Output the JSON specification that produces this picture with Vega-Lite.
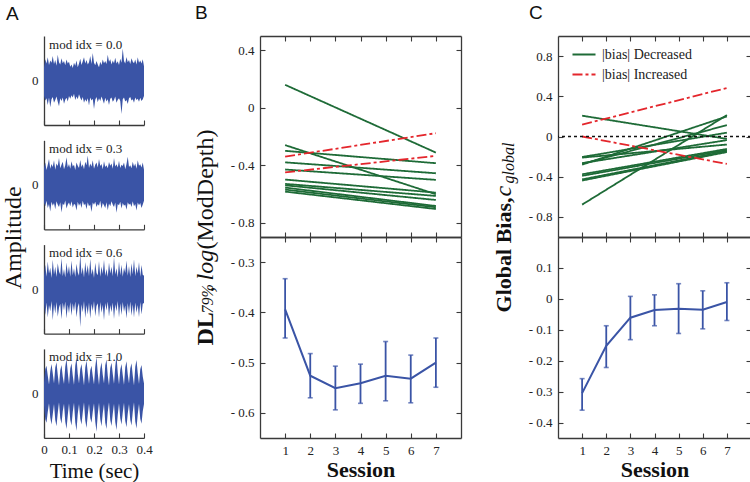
{
"$schema": "https://vega.github.io/schema/vega-lite/v6.json",
"background": "white",
"autosize": {"type": "pad"},
"padding": {"left": 1, "top": 4, "right": 0, "bottom": 0},
"config": {
 "view": {"stroke": null},
 "font": "Liberation Serif",
 "axis": {"grid": false, "tickSize": -5, "tickWidth": 1.1, "tickColor": "#3a3a3a", "domainColor": "#3a3a3a", "domainWidth": 1.3, "labelFont": "Liberation Serif", "labelFontSize": 13, "labelColor": "#222", "labelPadding": 11, "labelFlush": false, "labelOverlap": false, "labelBound": false, "titleFont": "Liberation Serif", "titleColor": "#111", "titleFontWeight": "normal"},
 "title": {"font": "Liberation Sans", "fontSize": 19, "fontWeight": "normal", "color": "#111", "anchor": "start", "frame": "bounds"}
},
"datasets": {
 "wave": [
{"p":1,"t":0,"h":0.30,"l":-0.35},{"p":1,"t":0.005,"h":0.48,"l":-0.45},{"p":1,"t":0.01,"h":0.38,"l":-0.40},{"p":1,"t":0.015,"h":0.52,"l":-0.55},{"p":1,"t":0.02,"h":0.35,"l":-0.38},{"p":1,"t":0.025,"h":0.45,"l":-0.60},{"p":1,"t":0.03,"h":0.40,"l":-0.42},{"p":1,"t":0.035,"h":0.55,"l":-0.37},{"p":1,"t":0.04,"h":0.37,"l":-0.50},{"p":1,"t":0.045,"h":0.46,"l":-0.44},
{"p":1,"t":0.05,"h":0.33,"l":-0.36},{"p":1,"t":0.055,"h":0.58,"l":-0.48},{"p":1,"t":0.06,"h":0.41,"l":-0.58},{"p":1,"t":0.065,"h":0.36,"l":-0.40},{"p":1,"t":0.07,"h":0.50,"l":-0.46},{"p":1,"t":0.075,"h":0.39,"l":-0.38},{"p":1,"t":0.08,"h":0.44,"l":-0.52},{"p":1,"t":0.085,"h":0.34,"l":-0.43},{"p":1,"t":0.09,"h":0.47,"l":-0.39},{"p":1,"t":0.095,"h":0.38,"l":-0.47},
{"p":1,"t":0.1,"h":0.42,"l":-0.35},{"p":1,"t":0.105,"h":0.31,"l":-0.41},{"p":1,"t":0.11,"h":0.36,"l":-0.33},{"p":1,"t":0.115,"h":0.28,"l":-0.38},{"p":1,"t":0.12,"h":0.40,"l":-0.30},{"p":1,"t":0.125,"h":0.33,"l":-0.44},{"p":1,"t":0.13,"h":0.45,"l":-0.36},{"p":1,"t":0.135,"h":0.30,"l":-0.42},{"p":1,"t":0.14,"h":0.38,"l":-0.31},{"p":1,"t":0.145,"h":0.49,"l":-0.39},
{"p":1,"t":0.15,"h":0.35,"l":-0.45},{"p":1,"t":0.155,"h":0.43,"l":-0.37},{"p":1,"t":0.16,"h":0.52,"l":-0.50},{"p":1,"t":0.165,"h":0.38,"l":-0.42},{"p":1,"t":0.17,"h":0.46,"l":-0.48},{"p":1,"t":0.175,"h":0.36,"l":-0.40},{"p":1,"t":0.18,"h":0.41,"l":-0.56},{"p":1,"t":0.185,"h":0.55,"l":-0.38},{"p":1,"t":0.19,"h":0.37,"l":-0.45},{"p":1,"t":0.195,"h":0.62,"l":-0.41},
{"p":1,"t":0.2,"h":0.40,"l":-0.64},{"p":1,"t":0.205,"h":0.34,"l":-0.43},{"p":1,"t":0.21,"h":0.44,"l":-0.37},{"p":1,"t":0.215,"h":0.36,"l":-0.49},{"p":1,"t":0.22,"h":0.30,"l":-0.40},{"p":1,"t":0.225,"h":0.42,"l":-0.46},{"p":1,"t":0.23,"h":0.35,"l":-0.36},{"p":1,"t":0.235,"h":0.47,"l":-0.44},{"p":1,"t":0.24,"h":0.39,"l":-0.52},{"p":1,"t":0.245,"h":0.44,"l":-0.39},
{"p":1,"t":0.25,"h":0.37,"l":-0.47},{"p":1,"t":0.255,"h":0.58,"l":-0.42},{"p":1,"t":0.26,"h":0.42,"l":-0.55},{"p":1,"t":0.265,"h":0.48,"l":-0.41},{"p":1,"t":0.27,"h":0.36,"l":-0.38},{"p":1,"t":0.275,"h":0.45,"l":-0.48},{"p":1,"t":0.28,"h":0.39,"l":-0.44},{"p":1,"t":0.285,"h":0.51,"l":-0.36},{"p":1,"t":0.29,"h":0.38,"l":-0.50},{"p":1,"t":0.295,"h":0.43,"l":-0.43},
{"p":1,"t":0.3,"h":0.35,"l":-0.40},{"p":1,"t":0.305,"h":0.49,"l":-0.46},{"p":1,"t":0.31,"h":0.40,"l":-0.75},{"p":1,"t":0.315,"h":0.72,"l":-0.42},{"p":1,"t":0.32,"h":0.44,"l":-0.38},{"p":1,"t":0.325,"h":0.38,"l":-0.47},{"p":1,"t":0.33,"h":0.53,"l":-0.44},{"p":1,"t":0.335,"h":0.41,"l":-0.53},{"p":1,"t":0.34,"h":0.46,"l":-0.40},{"p":1,"t":0.345,"h":0.37,"l":-0.37},
{"p":1,"t":0.35,"h":0.50,"l":-0.45},{"p":1,"t":0.355,"h":0.42,"l":-0.42},{"p":1,"t":0.36,"h":0.39,"l":-0.50},{"p":1,"t":0.365,"h":0.47,"l":-0.38},{"p":1,"t":0.37,"h":0.36,"l":-0.44},{"p":1,"t":0.375,"h":0.52,"l":-0.41},{"p":1,"t":0.38,"h":0.40,"l":-0.48},{"p":1,"t":0.385,"h":0.45,"l":-0.39},{"p":1,"t":0.39,"h":0.38,"l":-0.46},{"p":1,"t":0.395,"h":0.48,"l":-0.42},
{"p":1,"t":0.4,"h":0.32,"l":-0.35},
{"p":2,"t":0,"h":0.38,"l":-0.40},{"p":2,"t":0.005,"h":0.50,"l":-0.48},{"p":2,"t":0.01,"h":0.33,"l":-0.36},{"p":2,"t":0.015,"h":0.45,"l":-0.52},{"p":2,"t":0.02,"h":0.58,"l":-0.43},{"p":2,"t":0.025,"h":0.36,"l":-0.60},{"p":2,"t":0.03,"h":0.47,"l":-0.38},{"p":2,"t":0.035,"h":0.40,"l":-0.47},{"p":2,"t":0.04,"h":0.55,"l":-0.41},{"p":2,"t":0.045,"h":0.34,"l":-0.55},
{"p":2,"t":0.05,"h":0.48,"l":-0.37},{"p":2,"t":0.055,"h":0.42,"l":-0.45},{"p":2,"t":0.06,"h":0.60,"l":-0.50},{"p":2,"t":0.065,"h":0.37,"l":-0.39},{"p":2,"t":0.07,"h":0.45,"l":-0.62},{"p":2,"t":0.075,"h":0.52,"l":-0.42},{"p":2,"t":0.08,"h":0.35,"l":-0.46},{"p":2,"t":0.085,"h":0.44,"l":-0.35},{"p":2,"t":0.09,"h":0.62,"l":-0.53},{"p":2,"t":0.095,"h":0.39,"l":-0.44},
{"p":2,"t":0.1,"h":0.47,"l":-0.40},{"p":2,"t":0.105,"h":0.36,"l":-0.48},{"p":2,"t":0.11,"h":0.53,"l":-0.37},{"p":2,"t":0.115,"h":0.41,"l":-0.51},{"p":2,"t":0.12,"h":0.45,"l":-0.43},{"p":2,"t":0.125,"h":0.33,"l":-0.45},{"p":2,"t":0.13,"h":0.50,"l":-0.58},{"p":2,"t":0.135,"h":0.43,"l":-0.38},{"p":2,"t":0.14,"h":0.38,"l":-0.47},{"p":2,"t":0.145,"h":0.56,"l":-0.41},
{"p":2,"t":0.15,"h":0.40,"l":-0.52},{"p":2,"t":0.155,"h":0.46,"l":-0.36},{"p":2,"t":0.16,"h":0.35,"l":-0.46},{"p":2,"t":0.165,"h":0.52,"l":-0.42},{"p":2,"t":0.17,"h":0.44,"l":-0.55},{"p":2,"t":0.175,"h":0.66,"l":-0.39},{"p":2,"t":0.18,"h":0.38,"l":-0.48},{"p":2,"t":0.185,"h":0.48,"l":-0.44},{"p":2,"t":0.19,"h":0.41,"l":-0.61},{"p":2,"t":0.195,"h":0.55,"l":-0.40},
{"p":2,"t":0.2,"h":0.36,"l":-0.45},{"p":2,"t":0.205,"h":0.45,"l":-0.38},{"p":2,"t":0.21,"h":0.50,"l":-0.50},{"p":2,"t":0.215,"h":0.39,"l":-0.43},{"p":2,"t":0.22,"h":0.58,"l":-0.47},{"p":2,"t":0.225,"h":0.42,"l":-0.36},{"p":2,"t":0.23,"h":0.47,"l":-0.54},{"p":2,"t":0.235,"h":0.35,"l":-0.41},{"p":2,"t":0.24,"h":0.53,"l":-0.46},{"p":2,"t":0.245,"h":0.40,"l":-0.52},
{"p":2,"t":0.25,"h":0.44,"l":-0.39},{"p":2,"t":0.255,"h":0.37,"l":-0.57},{"p":2,"t":0.26,"h":0.51,"l":-0.42},{"p":2,"t":0.265,"h":0.43,"l":-0.48},{"p":2,"t":0.27,"h":0.48,"l":-0.37},{"p":2,"t":0.275,"h":0.36,"l":-0.45},{"p":2,"t":0.28,"h":0.60,"l":-0.50},{"p":2,"t":0.285,"h":0.41,"l":-0.40},{"p":2,"t":0.29,"h":0.46,"l":-0.63},{"p":2,"t":0.295,"h":0.39,"l":-0.43},
{"p":2,"t":0.3,"h":0.54,"l":-0.46},{"p":2,"t":0.305,"h":0.38,"l":-0.38},{"p":2,"t":0.31,"h":0.45,"l":-0.53},{"p":2,"t":0.315,"h":0.42,"l":-0.41},{"p":2,"t":0.32,"h":0.50,"l":-0.47},{"p":2,"t":0.325,"h":0.35,"l":-0.44},{"p":2,"t":0.33,"h":0.47,"l":-0.56},{"p":2,"t":0.335,"h":0.63,"l":-0.39},{"p":2,"t":0.34,"h":0.40,"l":-0.45},{"p":2,"t":0.345,"h":0.44,"l":-0.42},
{"p":2,"t":0.35,"h":0.37,"l":-0.50},{"p":2,"t":0.355,"h":0.52,"l":-0.37},{"p":2,"t":0.36,"h":0.41,"l":-0.48},{"p":2,"t":0.365,"h":0.48,"l":-0.43},{"p":2,"t":0.37,"h":0.36,"l":-0.58},{"p":2,"t":0.375,"h":0.55,"l":-0.40},{"p":2,"t":0.38,"h":0.43,"l":-0.46},{"p":2,"t":0.385,"h":0.46,"l":-0.41},{"p":2,"t":0.39,"h":0.39,"l":-0.52},{"p":2,"t":0.395,"h":0.50,"l":-0.44},
{"p":2,"t":0.4,"h":0.34,"l":-0.36},
{"p":3,"t":0,"h":0.30,"l":-0.32},{"p":3,"t":0.005,"h":0.55,"l":-0.58},{"p":3,"t":0.01,"h":0.28,"l":-0.30},{"p":3,"t":0.015,"h":0.62,"l":-0.64},{"p":3,"t":0.02,"h":0.35,"l":-0.36},{"p":3,"t":0.025,"h":0.48,"l":-0.50},{"p":3,"t":0.03,"h":0.25,"l":-0.27},{"p":3,"t":0.035,"h":0.66,"l":-0.70},{"p":3,"t":0.04,"h":0.33,"l":-0.34},{"p":3,"t":0.045,"h":0.50,"l":-0.55},
{"p":3,"t":0.05,"h":0.27,"l":-0.29},{"p":3,"t":0.055,"h":0.58,"l":-0.62},{"p":3,"t":0.06,"h":0.40,"l":-0.42},{"p":3,"t":0.065,"h":0.32,"l":-0.33},{"p":3,"t":0.07,"h":0.70,"l":-0.68},{"p":3,"t":0.075,"h":0.29,"l":-0.30},{"p":3,"t":0.08,"h":0.45,"l":-0.48},{"p":3,"t":0.085,"h":0.26,"l":-0.28},{"p":3,"t":0.09,"h":0.60,"l":-0.66},{"p":3,"t":0.095,"h":0.34,"l":-0.35},
{"p":3,"t":0.1,"h":0.52,"l":-0.54},{"p":3,"t":0.105,"h":0.28,"l":-0.29},{"p":3,"t":0.11,"h":0.64,"l":-0.60},{"p":3,"t":0.115,"h":0.31,"l":-0.32},{"p":3,"t":0.12,"h":0.47,"l":-0.50},{"p":3,"t":0.125,"h":0.27,"l":-0.28},{"p":3,"t":0.13,"h":0.57,"l":-0.63},{"p":3,"t":0.135,"h":0.38,"l":-0.40},{"p":3,"t":0.14,"h":0.30,"l":-0.31},{"p":3,"t":0.145,"h":0.78,"l":-0.85},
{"p":3,"t":0.15,"h":0.33,"l":-0.34},{"p":3,"t":0.155,"h":0.49,"l":-0.52},{"p":3,"t":0.16,"h":0.26,"l":-0.27},{"p":3,"t":0.165,"h":0.61,"l":-0.65},{"p":3,"t":0.17,"h":0.35,"l":-0.36},{"p":3,"t":0.175,"h":0.54,"l":-0.57},{"p":3,"t":0.18,"h":0.29,"l":-0.30},{"p":3,"t":0.185,"h":0.68,"l":-0.66},{"p":3,"t":0.19,"h":0.32,"l":-0.33},{"p":3,"t":0.195,"h":0.46,"l":-0.49},
{"p":3,"t":0.2,"h":0.25,"l":-0.27},{"p":3,"t":0.205,"h":0.59,"l":-0.61},{"p":3,"t":0.21,"h":0.36,"l":-0.38},{"p":3,"t":0.215,"h":0.31,"l":-0.32},{"p":3,"t":0.22,"h":0.63,"l":-0.64},{"p":3,"t":0.225,"h":0.28,"l":-0.29},{"p":3,"t":0.23,"h":0.51,"l":-0.53},{"p":3,"t":0.235,"h":0.34,"l":-0.35},{"p":3,"t":0.24,"h":0.66,"l":-0.70},{"p":3,"t":0.245,"h":0.30,"l":-0.31},
{"p":3,"t":0.25,"h":0.45,"l":-0.48},{"p":3,"t":0.255,"h":0.27,"l":-0.28},{"p":3,"t":0.26,"h":0.60,"l":-0.62},{"p":3,"t":0.265,"h":0.35,"l":-0.36},{"p":3,"t":0.27,"h":0.50,"l":-0.52},{"p":3,"t":0.275,"h":0.29,"l":-0.30},{"p":3,"t":0.28,"h":0.72,"l":-0.67},{"p":3,"t":0.285,"h":0.33,"l":-0.34},{"p":3,"t":0.29,"h":0.47,"l":-0.50},{"p":3,"t":0.295,"h":0.26,"l":-0.27},
{"p":3,"t":0.3,"h":0.62,"l":-0.64},{"p":3,"t":0.305,"h":0.31,"l":-0.32},{"p":3,"t":0.31,"h":0.55,"l":-0.58},{"p":3,"t":0.315,"h":0.28,"l":-0.29},{"p":3,"t":0.32,"h":0.48,"l":-0.51},{"p":3,"t":0.325,"h":0.36,"l":-0.37},{"p":3,"t":0.33,"h":0.64,"l":-0.66},{"p":3,"t":0.335,"h":0.30,"l":-0.31},{"p":3,"t":0.34,"h":0.52,"l":-0.55},{"p":3,"t":0.345,"h":0.27,"l":-0.28},
{"p":3,"t":0.35,"h":0.58,"l":-0.60},{"p":3,"t":0.355,"h":0.33,"l":-0.34},{"p":3,"t":0.36,"h":0.67,"l":-0.64},{"p":3,"t":0.365,"h":0.29,"l":-0.30},{"p":3,"t":0.37,"h":0.50,"l":-0.53},{"p":3,"t":0.375,"h":0.35,"l":-0.36},{"p":3,"t":0.38,"h":0.61,"l":-0.63},{"p":3,"t":0.385,"h":0.28,"l":-0.29},{"p":3,"t":0.39,"h":0.54,"l":-0.57},{"p":3,"t":0.395,"h":0.32,"l":-0.33},
{"p":3,"t":0.4,"h":0.30,"l":-0.31},
{"p":4,"t":0,"h":0.25,"l":-0.27},{"p":4,"t":0.005,"h":0.55,"l":-0.58},{"p":4,"t":0.01,"h":0.62,"l":-0.66},{"p":4,"t":0.015,"h":0.40,"l":-0.42},{"p":4,"t":0.02,"h":0.20,"l":-0.22},{"p":4,"t":0.025,"h":0.50,"l":-0.54},{"p":4,"t":0.03,"h":0.66,"l":-0.70},{"p":4,"t":0.035,"h":0.45,"l":-0.47},{"p":4,"t":0.04,"h":0.22,"l":-0.24},{"p":4,"t":0.045,"h":0.58,"l":-0.60},
{"p":4,"t":0.05,"h":0.70,"l":-0.74},{"p":4,"t":0.055,"h":0.42,"l":-0.44},{"p":4,"t":0.06,"h":0.18,"l":-0.20},{"p":4,"t":0.065,"h":0.52,"l":-0.55},{"p":4,"t":0.07,"h":0.64,"l":-0.68},{"p":4,"t":0.075,"h":0.38,"l":-0.40},{"p":4,"t":0.08,"h":0.21,"l":-0.23},{"p":4,"t":0.085,"h":0.60,"l":-0.63},{"p":4,"t":0.09,"h":0.78,"l":-0.80},{"p":4,"t":0.095,"h":0.47,"l":-0.49},
{"p":4,"t":0.1,"h":0.20,"l":-0.22},{"p":4,"t":0.105,"h":0.56,"l":-0.59},{"p":4,"t":0.11,"h":0.68,"l":-0.72},{"p":4,"t":0.115,"h":0.40,"l":-0.42},{"p":4,"t":0.12,"h":0.19,"l":-0.21},{"p":4,"t":0.125,"h":0.62,"l":-0.65},{"p":4,"t":0.13,"h":0.80,"l":-0.84},{"p":4,"t":0.135,"h":0.44,"l":-0.46},{"p":4,"t":0.14,"h":0.22,"l":-0.24},{"p":4,"t":0.145,"h":0.54,"l":-0.57},
{"p":4,"t":0.15,"h":0.66,"l":-0.70},{"p":4,"t":0.155,"h":0.41,"l":-0.43},{"p":4,"t":0.16,"h":0.18,"l":-0.20},{"p":4,"t":0.165,"h":0.58,"l":-0.61},{"p":4,"t":0.17,"h":0.74,"l":-0.78},{"p":4,"t":0.175,"h":0.46,"l":-0.48},{"p":4,"t":0.18,"h":0.21,"l":-0.23},{"p":4,"t":0.185,"h":0.52,"l":-0.55},{"p":4,"t":0.19,"h":0.62,"l":-0.66},{"p":4,"t":0.195,"h":0.39,"l":-0.41},
{"p":4,"t":0.2,"h":0.20,"l":-0.22},{"p":4,"t":0.205,"h":0.60,"l":-0.63},{"p":4,"t":0.21,"h":0.82,"l":-0.86},{"p":4,"t":0.215,"h":0.45,"l":-0.47},{"p":4,"t":0.22,"h":0.19,"l":-0.21},{"p":4,"t":0.225,"h":0.55,"l":-0.58},{"p":4,"t":0.23,"h":0.70,"l":-0.74},{"p":4,"t":0.235,"h":0.42,"l":-0.44},{"p":4,"t":0.24,"h":0.22,"l":-0.24},{"p":4,"t":0.245,"h":0.63,"l":-0.66},
{"p":4,"t":0.25,"h":0.76,"l":-0.80},{"p":4,"t":0.255,"h":0.40,"l":-0.42},{"p":4,"t":0.26,"h":0.18,"l":-0.20},{"p":4,"t":0.265,"h":0.57,"l":-0.60},{"p":4,"t":0.27,"h":0.69,"l":-0.73},{"p":4,"t":0.275,"h":0.44,"l":-0.46},{"p":4,"t":0.28,"h":0.21,"l":-0.23},{"p":4,"t":0.285,"h":0.61,"l":-0.64},{"p":4,"t":0.29,"h":0.84,"l":-0.82},{"p":4,"t":0.295,"h":0.46,"l":-0.48},
{"p":4,"t":0.3,"h":0.20,"l":-0.22},{"p":4,"t":0.305,"h":0.53,"l":-0.56},{"p":4,"t":0.31,"h":0.66,"l":-0.70},{"p":4,"t":0.315,"h":0.41,"l":-0.43},{"p":4,"t":0.32,"h":0.19,"l":-0.21},{"p":4,"t":0.325,"h":0.59,"l":-0.62},{"p":4,"t":0.33,"h":0.72,"l":-0.76},{"p":4,"t":0.335,"h":0.43,"l":-0.45},{"p":4,"t":0.34,"h":0.22,"l":-0.24},{"p":4,"t":0.345,"h":0.56,"l":-0.59},
{"p":4,"t":0.35,"h":0.68,"l":-0.72},{"p":4,"t":0.355,"h":0.40,"l":-0.42},{"p":4,"t":0.36,"h":0.18,"l":-0.20},{"p":4,"t":0.365,"h":0.60,"l":-0.63},{"p":4,"t":0.37,"h":0.75,"l":-0.79},{"p":4,"t":0.375,"h":0.45,"l":-0.47},{"p":4,"t":0.38,"h":0.21,"l":-0.23},{"p":4,"t":0.385,"h":0.54,"l":-0.57},{"p":4,"t":0.39,"h":0.64,"l":-0.68},{"p":4,"t":0.395,"h":0.38,"l":-0.40},
{"p":4,"t":0.4,"h":0.22,"l":-0.24}
 ],
 "bl": [
{"id":"g1","g":"|bias| Decreased","s":1,"v":0.16},{"id":"g1","g":"|bias| Decreased","s":7,"v":-0.312},
{"id":"g2","g":"|bias| Decreased","s":1,"v":-0.26},{"id":"g2","g":"|bias| Decreased","s":7,"v":-0.602},
{"id":"g3","g":"|bias| Decreased","s":1,"v":-0.30},{"id":"g3","g":"|bias| Decreased","s":7,"v":-0.386},
{"id":"g4","g":"|bias| Decreased","s":1,"v":-0.38},{"id":"g4","g":"|bias| Decreased","s":7,"v":-0.456},
{"id":"g5","g":"|bias| Decreased","s":1,"v":-0.43},{"id":"g5","g":"|bias| Decreased","s":7,"v":-0.502},
{"id":"g6","g":"|bias| Decreased","s":1,"v":-0.50},{"id":"g6","g":"|bias| Decreased","s":7,"v":-0.591},
{"id":"g7","g":"|bias| Decreased","s":1,"v":-0.53},{"id":"g7","g":"|bias| Decreased","s":7,"v":-0.614},
{"id":"g8","g":"|bias| Decreased","s":1,"v":-0.54},{"id":"g8","g":"|bias| Decreased","s":7,"v":-0.642},
{"id":"g9","g":"|bias| Decreased","s":1,"v":-0.556},{"id":"g9","g":"|bias| Decreased","s":7,"v":-0.684},
{"id":"g10","g":"|bias| Decreased","s":1,"v":-0.57},{"id":"g10","g":"|bias| Decreased","s":7,"v":-0.693},
{"id":"g11","g":"|bias| Decreased","s":1,"v":-0.584},{"id":"g11","g":"|bias| Decreased","s":7,"v":-0.705},
{"id":"r1","g":"|bias| Increased","s":1,"v":-0.34},{"id":"r1","g":"|bias| Increased","s":7,"v":-0.177},
{"id":"r2","g":"|bias| Increased","s":1,"v":-0.45},{"id":"r2","g":"|bias| Increased","s":7,"v":-0.335}
 ],
 "cl": [
{"id":"h1","g":"|bias| Decreased","s":1,"v":0.207},{"id":"h1","g":"|bias| Decreased","s":7,"v":-0.024},
{"id":"h2","g":"|bias| Decreased","s":1,"v":-0.678},{"id":"h2","g":"|bias| Decreased","s":7,"v":0.213},
{"id":"h3","g":"|bias| Decreased","s":1,"v":-0.28},{"id":"h3","g":"|bias| Decreased","s":7,"v":0.2},
{"id":"h4","g":"|bias| Decreased","s":1,"v":-0.273},{"id":"h4","g":"|bias| Decreased","s":7,"v":0.113},
{"id":"h5","g":"|bias| Decreased","s":1,"v":-0.204},{"id":"h5","g":"|bias| Decreased","s":7,"v":0.038},
{"id":"h6","g":"|bias| Decreased","s":1,"v":-0.21},{"id":"h6","g":"|bias| Decreased","s":7,"v":-0.08},
{"id":"h7","g":"|bias| Decreased","s":1,"v":-0.265},{"id":"h7","g":"|bias| Decreased","s":7,"v":-0.036},
{"id":"h8","g":"|bias| Decreased","s":1,"v":-0.376},{"id":"h8","g":"|bias| Decreased","s":7,"v":-0.124},
{"id":"h9","g":"|bias| Decreased","s":1,"v":-0.391},{"id":"h9","g":"|bias| Decreased","s":7,"v":-0.135},
{"id":"h10","g":"|bias| Decreased","s":1,"v":-0.427},{"id":"h10","g":"|bias| Decreased","s":7,"v":-0.145},
{"id":"h11","g":"|bias| Decreased","s":1,"v":-0.438},{"id":"h11","g":"|bias| Decreased","s":7,"v":-0.155},
{"id":"q1","g":"|bias| Increased","s":1,"v":0.118},{"id":"q1","g":"|bias| Increased","s":7,"v":0.483},
{"id":"q2","g":"|bias| Increased","s":1,"v":0.0},{"id":"q2","g":"|bias| Increased","s":7,"v":-0.273}
 ],
 "bm": [
{"s":1,"m":-0.394,"lo":-0.451,"hi":-0.333},{"s":2,"m":-0.526,"lo":-0.570,"hi":-0.482},{"s":3,"m":-0.551,"lo":-0.594,"hi":-0.507},{"s":4,"m":-0.541,"lo":-0.581,"hi":-0.503},{"s":5,"m":-0.526,"lo":-0.576,"hi":-0.458},{"s":6,"m":-0.532,"lo":-0.580,"hi":-0.485},{"s":7,"m":-0.500,"lo":-0.549,"hi":-0.451}
 ],
 "cm": [
{"s":1,"m":-0.305,"lo":-0.360,"hi":-0.258},{"s":2,"m":-0.152,"lo":-0.222,"hi":-0.087},{"s":3,"m":-0.061,"lo":-0.132,"hi":0.008},{"s":4,"m":-0.036,"lo":-0.087,"hi":0.013},{"s":5,"m":-0.032,"lo":-0.112,"hi":0.049},{"s":6,"m":-0.035,"lo":-0.097,"hi":0.026},{"s":7,"m":-0.010,"lo":-0.070,"hi":0.052}
 ],
 "one": [{"a":1}]
},
"spacing": 29,
"resolve": {"scale": {"color": "independent", "strokeDash": "independent"}},
"hconcat": [
 {"vconcat": [
  {"width": 120, "height": 89, "data": {"name": "wave"}, "transform": [{"filter": "datum.p == 1"}], "mark": {"type": "area", "color": "#3a54a6"},
   "encoding": {"x": {"field": "t", "type": "quantitative", "scale": {"domain": [0, 0.4], "range": [0, 100]}, "axis": {"values": [0, 0.1, 0.2, 0.3, 0.4], "labels": false, "title": null}},
    "y": {"field": "h", "type": "quantitative", "scale": {"domain": [-1, 1]}, "axis": {"values": [0], "labelExpr": "'0'", "title": "mod idx = 0.0", "titleAngle": 0, "titleAlign": "left", "titleBaseline": "middle", "titleFontSize": 13, "titleColor": "#222", "titleX": 4.6, "titleY": 8}},
    "y2": {"field": "l"}}},
  {"width": 120, "height": 89, "data": {"name": "wave"}, "transform": [{"filter": "datum.p == 2"}], "mark": {"type": "area", "color": "#3a54a6"},
   "encoding": {"x": {"field": "t", "type": "quantitative", "scale": {"domain": [0, 0.4], "range": [0, 100]}, "axis": {"values": [0, 0.1, 0.2, 0.3, 0.4], "labels": false, "title": "mod idx = 0.3", "titleAngle": 0, "titleAlign": "left", "titleBaseline": "middle", "titleFontSize": 13, "titleColor": "#222", "titleX": 4.6, "titleY": -81}},
    "y": {"field": "h", "type": "quantitative", "scale": {"domain": [-1, 1]}, "axis": {"values": [0], "labelExpr": "'0'", "title": "Amplitude", "titleFontSize": 24, "titleAngle": 270, "titleAlign": "center", "titleBaseline": "middle", "titleX": -31, "titleY": 97}},
    "y2": {"field": "l"}}},
  {"width": 120, "height": 89, "data": {"name": "wave"}, "transform": [{"filter": "datum.p == 3"}], "mark": {"type": "area", "color": "#3a54a6"},
   "encoding": {"x": {"field": "t", "type": "quantitative", "scale": {"domain": [0, 0.4], "range": [0, 100]}, "axis": {"values": [0, 0.1, 0.2, 0.3, 0.4], "labels": false, "title": null}},
    "y": {"field": "h", "type": "quantitative", "scale": {"domain": [-1, 1]}, "axis": {"values": [0], "labelExpr": "'0'", "title": "mod idx = 0.6", "titleAngle": 0, "titleAlign": "left", "titleBaseline": "middle", "titleFontSize": 13, "titleColor": "#222", "titleX": 4.6, "titleY": 8}},
    "y2": {"field": "l"}}},
  {"width": 120, "height": 89, "data": {"name": "wave"}, "transform": [{"filter": "datum.p == 4"}], "mark": {"type": "area", "color": "#3a54a6"},
   "encoding": {"x": {"field": "t", "type": "quantitative", "scale": {"domain": [0, 0.4], "range": [0, 100]}, "axis": {"values": [0, 0.1, 0.2, 0.3, 0.4], "labelOverlap": false, "labelExpr": "datum.value == 0 ? '0' : format(datum.value, '.1f')", "title": "Time (sec)", "titleFontSize": 21, "titlePadding": 4, "titleX": 50}},
    "y": {"field": "h", "type": "quantitative", "scale": {"domain": [-1, 1]}, "axis": {"values": [0], "labelExpr": "'0'", "title": "mod idx = 1.0", "titleAngle": 0, "titleAlign": "left", "titleBaseline": "middle", "titleFontSize": 13, "titleColor": "#222", "titleX": 4.6, "titleY": 8}},
    "y2": {"field": "l"}}}
 ], "spacing": 15.3, "bounds": "flush", "title": {"text": "A", "dx": 5, "offset": 12}},
 {"vconcat": [
   {"width": 201, "height": 201, "resolve": {"axis": {"x": "independent", "y": "independent"}}, "layer": [
    {"data": {"name": "bl"}, "mark": {"type": "line", "strokeWidth": 1.8},
     "encoding": {
      "x": {"field": "s", "type": "quantitative", "scale": {"domain": [0.25, 7.75]}, "axis": {"values": [1,2,3,4,5,6,7], "labels": false, "title": "79%", "titleFontStyle": "italic", "titleFontSize": 16, "titleAngle": 270, "titleAlign": "left", "titleBaseline": "middle", "titleX": -53, "titleY": 76}},
      "y": {"field": "v", "type": "quantitative", "scale": {"domain": [-0.9, 0.5]}, "axis": {"values": [-0.8,-0.4,0,0.4], "labelExpr": "datum.value == 0 ? '0' : (datum.value < 0 ? '- ' : '') + format(abs(datum.value), '.1f')", "title": ", log", "titleFontStyle": "italic", "titleFontSize": 24, "titleAngle": 270, "titleAlign": "left", "titleBaseline": "middle", "titleX": -55, "titleY": 256}},
      "color": {"field": "g", "type": "nominal", "scale": {"domain": ["|bias| Decreased", "|bias| Increased"], "range": ["#1e6b37", "#e4262c"]}, "legend": null},
      "strokeDash": {"field": "g", "type": "nominal", "scale": {"domain": ["|bias| Decreased", "|bias| Increased"], "range": [[1, 0], [10, 3, 3, 3]]}, "legend": null},
      "detail": {"field": "id", "type": "nominal"}}},
    {"data": {"name": "one"}, "mark": {"type": "point", "opacity": 0},
     "encoding": {
      "x": {"datum": 1, "axis": {"orient": "top", "values": [1,2,3,4,5,6,7], "labels": false, "title": "(ModDepth)", "titleFontSize": 24, "titleAngle": 270, "titleAlign": "left", "titleBaseline": "middle", "titleX": -55, "titleY": 213}},
      "y": {"datum": 0, "axis": {"orient": "right", "values": [-0.8,-0.4,0,0.4], "labels": false, "title": null}}}}
   ]},
   {"width": 201, "height": 201, "resolve": {"axis": {"x": "independent", "y": "independent"}}, "layer": [
    {"data": {"name": "bm"}, "mark": {"type": "line", "color": "#3a54a6", "strokeWidth": 2},
     "encoding": {
      "x": {"field": "s", "type": "quantitative", "scale": {"domain": [0.25, 7.75]}, "axis": {"values": [1,2,3,4,5,6,7], "format": "d", "title": "Session", "titleFontSize": 22, "titleFontWeight": "bold", "titlePadding": 2}},
      "y": {"field": "m", "type": "quantitative", "scale": {"domain": [-0.65, -0.25]}, "axis": {"values": [-0.6,-0.5,-0.4,-0.3], "labelExpr": "datum.value == 0 ? '0' : (datum.value < 0 ? '- ' : '') + format(abs(datum.value), '.1f')", "title": "DL", "titleFontWeight": "bold", "titleFontSize": 24, "titleAngle": 270, "titleAlign": "left", "titleBaseline": "middle", "titleX": -55, "titleY": 108}}}},
    {"data": {"name": "bm"}, "mark": {"type": "rule", "color": "#3a54a6", "strokeWidth": 1.8},
     "encoding": {"x": {"field": "s", "type": "quantitative", "axis": null}, "y": {"field": "lo", "type": "quantitative", "axis": null}, "y2": {"field": "hi"}}},
    {"data": {"name": "bm"}, "mark": {"type": "tick", "orient": "horizontal", "color": "#3a54a6", "size": 5, "thickness": 1.6},
     "encoding": {"x": {"field": "s", "type": "quantitative", "axis": null}, "y": {"field": "lo", "type": "quantitative", "axis": null}}},
    {"data": {"name": "bm"}, "mark": {"type": "tick", "orient": "horizontal", "color": "#3a54a6", "size": 5, "thickness": 1.6},
     "encoding": {"x": {"field": "s", "type": "quantitative", "axis": null}, "y": {"field": "hi", "type": "quantitative", "axis": null}}},
    {"data": {"name": "one"}, "mark": {"type": "point", "opacity": 0},
     "encoding": {
      "x": {"datum": 1, "axis": {"orient": "top", "values": [1,2,3,4,5,6,7], "labels": false, "title": null}},
      "y": {"datum": -0.4, "axis": {"orient": "right", "values": [-0.6,-0.5,-0.4,-0.3], "labels": false, "title": null}}}}
   ]}
  ], "spacing": 0, "bounds": "flush", "resolve": {"scale": {"color": "independent", "strokeDash": "independent"}}, "title": {"text": "B", "dx": 2, "offset": 12}},
 {"vconcat": [
   {"width": 193, "height": 201, "resolve": {"axis": {"x": "independent", "y": "independent"}}, "layer": [
    {"data": {"name": "cl"}, "mark": {"type": "line", "strokeWidth": 1.8},
     "encoding": {
      "x": {"field": "s", "type": "quantitative", "scale": {"domain": [0.25, 7.75]}, "axis": {"values": [1,2,3,4,5,6,7], "labels": false, "title": null}},
      "y": {"field": "v", "type": "quantitative", "scale": {"domain": [-0.9, 0.9]}, "axis": {"values": [-0.8,-0.4,0,0.4,0.8], "labelExpr": "datum.value == 0 ? '0' : (datum.value < 0 ? '- ' : '') + format(abs(datum.value), '.1f')", "title": "c", "titleFontStyle": "italic", "titleFontSize": 24, "titleAngle": 270, "titleAlign": "left", "titleBaseline": "middle", "titleX": -55, "titleY": 160}},
      "color": {"field": "g", "type": "nominal", "scale": {"domain": ["|bias| Decreased", "|bias| Increased"], "range": ["#1e6b37", "#e4262c"]}, "legend": {"title": null, "orient": "none", "legendX": 13, "legendY": 5.5, "symbolType": "stroke", "symbolSize": 530, "symbolStrokeWidth": 2, "labelFont": "Liberation Serif", "labelFontSize": 14, "labelColor": "#222", "rowPadding": -9, "padding": 0, "labelOffset": 5}},
      "strokeDash": {"field": "g", "type": "nominal", "scale": {"domain": ["|bias| Decreased", "|bias| Increased"], "range": [[1, 0], [10, 3, 3, 3]]}, "legend": {"title": null, "orient": "none", "legendX": 13, "legendY": 5.5, "symbolType": "stroke", "symbolSize": 530, "symbolStrokeWidth": 2, "labelFont": "Liberation Serif", "labelFontSize": 14, "labelColor": "#222", "rowPadding": -9, "padding": 0, "labelOffset": 5}},
      "detail": {"field": "id", "type": "nominal"}}},
    {"data": {"name": "one"}, "mark": {"type": "rule", "color": "#111", "strokeWidth": 1.6, "strokeDash": [3, 3]},
     "encoding": {"y": {"datum": 0, "axis": null}}},
    {"data": {"name": "one"}, "mark": {"type": "point", "opacity": 0},
     "encoding": {
      "x": {"datum": 1, "axis": {"orient": "top", "values": [1,2,3,4,5,6,7], "labels": false, "title": "global", "titleFontStyle": "italic", "titleFontSize": 16, "titleAngle": 270, "titleAlign": "left", "titleBaseline": "middle", "titleX": -50, "titleY": 147}},
      "y": {"datum": 0, "axis": {"orient": "right", "values": [-0.8,-0.4,0,0.4,0.8], "labels": false, "title": null}}}}
   ]},
   {"width": 193, "height": 201, "resolve": {"axis": {"x": "independent", "y": "independent"}}, "layer": [
    {"data": {"name": "cm"}, "mark": {"type": "line", "color": "#3a54a6", "strokeWidth": 2},
     "encoding": {
      "x": {"field": "s", "type": "quantitative", "scale": {"domain": [0.25, 7.75]}, "axis": {"values": [1,2,3,4,5,6,7], "format": "d", "title": "Session", "titleFontSize": 22, "titleFontWeight": "bold", "titlePadding": 2}},
      "y": {"field": "m", "type": "quantitative", "scale": {"domain": [-0.45, 0.2]}, "axis": {"values": [-0.4,-0.3,-0.2,-0.1,0,0.1], "labelExpr": "datum.value == 0 ? '0' : (datum.value < 0 ? '- ' : '') + format(abs(datum.value), '.1f')", "title": "Global Bias,", "titleFontWeight": "bold", "titleFontSize": 22, "titleAngle": 270, "titleAlign": "right", "titleBaseline": "middle", "titleX": -55, "titleY": -40}}}},
    {"data": {"name": "cm"}, "mark": {"type": "rule", "color": "#3a54a6", "strokeWidth": 1.8},
     "encoding": {"x": {"field": "s", "type": "quantitative", "axis": null}, "y": {"field": "lo", "type": "quantitative", "axis": null}, "y2": {"field": "hi"}}},
    {"data": {"name": "cm"}, "mark": {"type": "tick", "orient": "horizontal", "color": "#3a54a6", "size": 5, "thickness": 1.6},
     "encoding": {"x": {"field": "s", "type": "quantitative", "axis": null}, "y": {"field": "lo", "type": "quantitative", "axis": null}}},
    {"data": {"name": "cm"}, "mark": {"type": "tick", "orient": "horizontal", "color": "#3a54a6", "size": 5, "thickness": 1.6},
     "encoding": {"x": {"field": "s", "type": "quantitative", "axis": null}, "y": {"field": "hi", "type": "quantitative", "axis": null}}},
    {"data": {"name": "one"}, "mark": {"type": "point", "opacity": 0},
     "encoding": {
      "x": {"datum": 1, "axis": {"orient": "top", "values": [1,2,3,4,5,6,7], "labels": false, "title": null}},
      "y": {"datum": 0, "axis": {"orient": "right", "values": [-0.4,-0.3,-0.2,-0.1,0,0.1], "labels": false, "title": null}}}}
   ]}
  ], "spacing": 0, "bounds": "flush", "resolve": {"scale": {"color": "independent", "strokeDash": "independent"}}, "title": {"text": "C", "dx": 38, "offset": 12}}
]
}
